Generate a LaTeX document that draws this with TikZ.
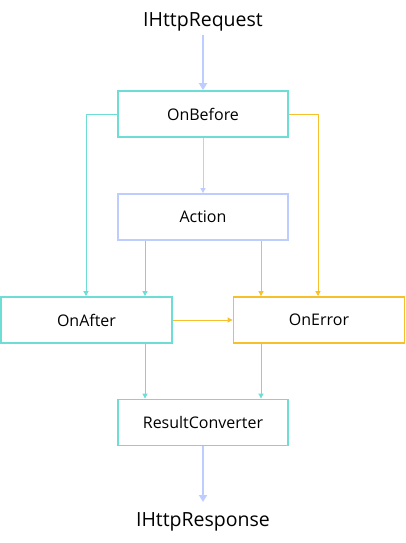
\documentclass[tikz,border=0pt]{standalone}
\usepackage{fontspec}
\setmainfont{Open Sans}
\usetikzlibrary{arrows.meta}
\definecolor{teal}{RGB}{110,221,214}
\definecolor{gold}{RGB}{246,192,44}
\definecolor{lblue}{RGB}{190,205,255}
\tikzset{
  box/.style={draw, line width=1.8pt, minimum width=170pt, minimum height=46pt, inner sep=0pt, font=\fontsize{16}{18}\selectfont, text=black},
  lbl/.style={font=\fontsize{19.5}{22}\selectfont, text=black, inner sep=0pt, anchor=base},
  thin/.style={line width=0.9pt, -{Triangle[length=5pt,width=5pt]}},
  thick/.style={line width=2.6pt, -{Triangle[length=7pt,width=8pt]}, draw=lblue},
}
\begin{document}
\begin{tikzpicture}[x=1pt,y=-1pt]
\useasboundingbox (0,0) rectangle (406,543);
\node[lbl] (req) at (203,27) {IHttpRequest};
\node[box, draw=teal] (before) at (203,114) {OnBefore};
\node[box, draw=lblue] (action) at (203,217) {Action};
\node[box, draw=teal, minimum width=171pt] (after) at (86.5,320) {OnAfter};
\node[box, draw=gold, minimum width=171pt] (error) at (319,320) {OnError};
\node[box, draw=teal] (conv) at (203,422.5) {ResultConverter};
\node[lbl] (resp) at (203,526) {IHttpResponse};
\coordinate (reqout) at (203,35);
\coordinate (respin) at (203,502);

\draw[thick] (reqout) -- (before.north);
\draw[thin, draw=lblue] (before) -- (action);
\draw[thin, draw=teal] (before.west) -| (after.north -| 86,0);
\draw[thin, draw=gold] (before.east) -| (error.north -| 318,0);
\draw[thin, draw=teal] (action.south -| 145,0) -- (after.north -| 145,0);
\draw[thin, draw=gold] (action.south -| 261,0) -- (error.north -| 261,0);
\draw[thin, draw=gold] (after) -- (error);
\draw[thin, draw=teal] (after.south -| 145,0) -- (conv.north -| 145,0);
\draw[thin, draw=teal] (error.south -| 261,0) -- (conv.north -| 261,0);
\draw[thick] (conv) -- (respin);
\end{tikzpicture}
\end{document}
